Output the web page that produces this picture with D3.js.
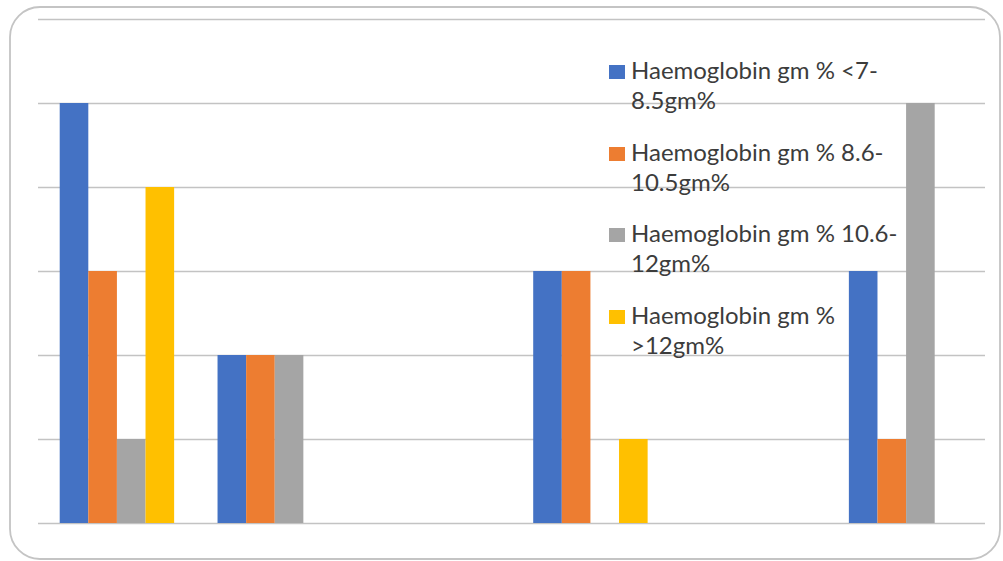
<!DOCTYPE html>
<html><head><meta charset="utf-8">
<script src="https://cdn.jsdelivr.net/npm/d3@7"></script>
<style>html,body{margin:0;padding:0;background:#fff;}</style>
</head><body>
<svg id="chart" width="1003" height="561"></svg>
<script>
const categories = ["1","2","3","4","5","6"];
const seriesNames = [
  ["Haemoglobin gm % <7-", "8.5gm%"],
  ["Haemoglobin gm % 8.6-", "10.5gm%"],
  ["Haemoglobin gm % 10.6-", "12gm%"],
  ["Haemoglobin gm %", ">12gm%"]
];
const series1 = [5, 2, 0, 3, 0, 3];
const series2 = [3, 2, 0, 3, 0, 1];
const series3 = [1, 2, 0, 0, 0, 5];
const series4 = [4, 0, 0, 1, 0, 0];
const colors = ["#4472C4", "#ED7D31", "#A5A5A5", "#FFC000"];
const yTicks = [0,1,2,3,4,5,6];

const svg = d3.select("#chart");
svg.append("rect").attr("x",10).attr("y",7).attr("width",990).attr("height",552)
  .attr("rx",30).attr("ry",30).attr("fill","#fff").attr("stroke","#c4c4c4").attr("stroke-width",1.8);

const x0 = d3.scaleBand().domain(categories).range([38,985]).paddingInner(0.275).paddingOuter(0.1375);
const x1 = d3.scaleBand().domain(d3.range(4)).range([0, x0.bandwidth()]);
const y = d3.scaleLinear().domain([0,6]).range([523,19]);

const yAxis = d3.axisLeft(y).tickValues(yTicks).tickSize(-(985-38)).tickFormat("");
const g = svg.append("g").attr("transform","translate(38,0)").call(yAxis);
g.select(".domain").remove();
g.selectAll(".tick line").attr("stroke","#c3c3c3").attr("stroke-width",1.6);

const allSeries = [series1, series2, series3, series4];
allSeries.forEach((s, si) => {
  svg.append("g").selectAll("rect").data(s).join("rect")
    .attr("x", (d,i) => x0(categories[i]) + x1(si))
    .attr("y", d => y(d))
    .attr("width", x1.bandwidth())
    .attr("height", d => y(0) - y(d))
    .attr("fill", colors[si]);
});

const legend = svg.append("g");
const legBase = [79, 161, 242, 324];
seriesNames.forEach((lines, i) => {
  legend.append("rect").attr("x",609).attr("y",legBase[i]-14).attr("width",16).attr("height",14).attr("fill",colors[i]);
  const t = legend.append("text").attr("font-family","Lato, sans-serif").attr("font-size",24).attr("fill","#3c3c3c")
    .attr("transform",`translate(631,${legBase[i]})`);
  lines.forEach((ln, j) => {
    t.append("tspan").attr("x",0).attr("y", j*30).text(ln);
  });
});
</script>
</body></html>
